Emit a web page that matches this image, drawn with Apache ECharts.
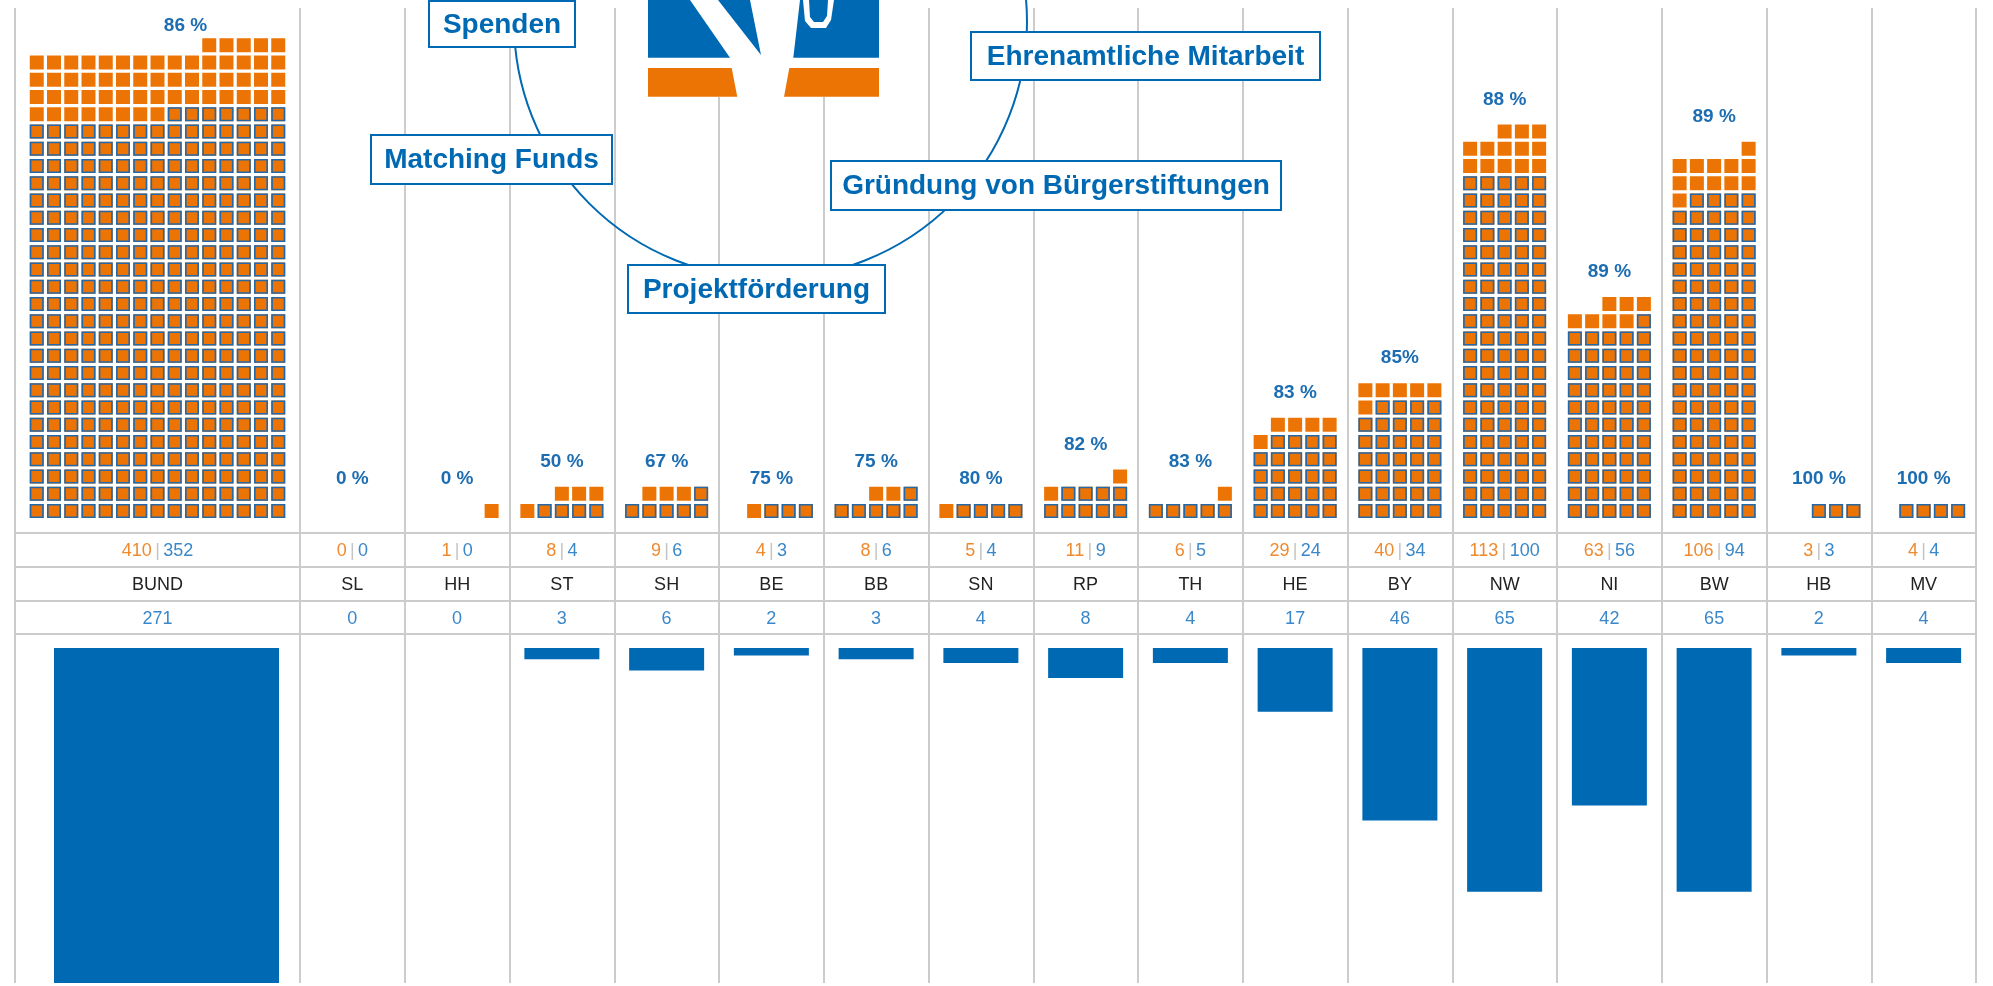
<!DOCTYPE html>
<html lang="de">
<head>
<meta charset="utf-8">
<script src="https://cdn.jsdelivr.net/npm/echarts@6/dist/echarts.min.js"></script>
</head>
<body style="margin:0;background:#fff">
<div id="container" style="width:1993px;height:986px"></div>
<script>
// Daten: BUND separat, dann die Länder
var bundName = ['BUND'];
var bundOrange = [410];
var bundBlue = [352];
var bundBars = [271];
var bundPct = ['86 %'];

var laender = ['SL', 'HH', 'ST', 'SH', 'BE', 'BB', 'SN', 'RP', 'TH', 'HE', 'BY', 'NW', 'NI', 'BW', 'HB', 'MV'];
var orange = [0, 1, 8, 9, 4, 8, 5, 11, 6, 29, 40, 113, 63, 106, 3, 4];
var blue = [0, 0, 4, 6, 3, 6, 4, 9, 5, 24, 34, 100, 56, 94, 3, 4];
var bars = [0, 0, 3, 6, 2, 3, 4, 8, 4, 17, 46, 65, 42, 65, 2, 4];
var pct = ['0 %', '0 %', '50 %', '67 %', '75 %', '75 %', '80 %', '82 %', '83 %', '83 %', '85%', '88 %', '89 %', '89 %', '100 %', '100 %'];

var ORANGE = '#ec7404';
var VRBLUE = '#0069b3';
var BORDER = '#2468a8';
var GRID = '#cccccc';
var FONT = '"Liberation Sans", Arial, sans-serif';

var rowPx = 17.25;          // Raster der Kästchen
var SQ = 14 / 17.25;        // Kästchen relativ zum Raster
var waffleTop = 8, waffleBase = 518;
var barTop = 648, barH = 335, barPx = 3.75;

var myChart = echarts.init(document.getElementById('container'));

function waffle(ora, blu, perRow) {
    var out = [];
    ora.forEach(function (n, c) {
        for (var i = 0; i < n; i++) {
            out.push([c, perRow - 1 - (i % perRow), Math.floor(i / perRow), i < blu[c] ? 1 : 0, perRow]);
        }
    });
    return out;
}

function renderSquare(params, api) {
    var p = api.coord([api.value(0), api.value(2)]);
    var unit = api.size([0, 1])[1];
    var s = unit * SQ;
    var per = api.value(4);
    var x = p[0] + (api.value(1) - (per - 1) / 2) * unit - s / 2;
    var y = p[1] - s;
    if (api.value(3) === 1) {
        return {
            type: 'group', children: [
                {type: 'rect', shape: {x: x, y: y, width: s, height: s}, style: {fill: ORANGE}},
                {type: 'rect', shape: {x: x + 0.8, y: y + 0.8, width: s - 1.6, height: s - 1.6},
                    style: {fill: 'none', stroke: BORDER, lineWidth: 1.6}}
            ]
        };
    }
    return {type: 'rect', shape: {x: x, y: y, width: s, height: s}, style: {fill: ORANGE}};
}

function pctData(ora, perRow) {
    return ora.map(function (n, c) {
        return [c, Math.max(1, Math.ceil(n / perRow))];
    });
}

function makePct(labels, dx, minY) {
    return function (params, api) {
        var p = api.coord([api.value(0), api.value(1) - 1]);
        var unit = api.size([0, 1])[1];
        var y = Math.max(p[1] - unit * SQ - 25, minY);
        return {
            type: 'text',
            style: {
                text: labels[params.dataIndex], x: p[0] + dx, y: y,
                fill: '#1c6db2', fontSize: 19, fontWeight: 'bold', fontFamily: FONT,
                align: 'center', verticalAlign: 'middle'
            }
        };
    };
}

function rowAxes(grid, names, ora, blu, nums) {
    var common = {
        type: 'category', gridIndex: grid, data: names, position: 'bottom',
        axisTick: {show: false},
        axisLine: {show: true, onZero: false, lineStyle: {color: GRID, width: 2}},
        splitLine: {show: false}
    };
    return [
        Object.assign({}, common, {
            offset: 15,
            axisLabel: {
                interval: 0, margin: 18, verticalAlign: 'middle',
                formatter: function (v, i) {
                    return '{o|' + ora[i] + '} {s||} {b|' + blu[i] + '}';
                },
                rich: {
                    o: {color: '#ef8a2e', fontSize: 18, fontFamily: FONT},
                    s: {color: '#c4c4c4', fontSize: 18, fontFamily: FONT},
                    b: {color: '#3a88c9', fontSize: 18, fontFamily: FONT}
                }
            }
        }),
        Object.assign({}, common, {
            offset: 49,
            axisLabel: {interval: 0, margin: 18, verticalAlign: 'middle', color: '#222', fontSize: 18, fontFamily: FONT}
        }),
        Object.assign({}, common, {
            offset: 83,
            axisLabel: {
                interval: 0, margin: 18, verticalAlign: 'middle', color: '#3a88c9', fontSize: 18, fontFamily: FONT,
                formatter: function (v, i) { return String(nums[i]); }
            }
        }),
        Object.assign({}, common, {offset: 116, axisLabel: {show: false}})
    ];
}

var hidden = {axisLine: {show: false}, axisTick: {show: false}, axisLabel: {show: false}, splitLine: {show: false}};

var xAxes = [].concat(
    rowAxes(0, bundName, bundOrange, bundBlue, bundBars),   // 0-3
    rowAxes(1, laender, orange, blue, bars),                // 4-7
    [
        Object.assign({type: 'category', gridIndex: 2, data: bundName}, hidden),   // 8
        Object.assign({type: 'category', gridIndex: 3, data: laender}, hidden),    // 9
        Object.assign({type: 'category', gridIndex: 4, data: bundName}, hidden,
            {splitLine: {show: true, interval: 0, showMinLine: true, showMaxLine: true, lineStyle: {color: GRID, width: 2}}}),
        Object.assign({type: 'category', gridIndex: 5, data: laender}, hidden,
            {splitLine: {show: true, interval: 0, showMinLine: true, showMaxLine: true, lineStyle: {color: GRID, width: 2}}})
    ]
);

var waffleMax = (waffleBase - waffleTop) / rowPx;
var barMax = barH / barPx;

var yAxes = [
    Object.assign({type: 'value', gridIndex: 0, min: 0, max: waffleMax}, hidden),
    Object.assign({type: 'value', gridIndex: 1, min: 0, max: waffleMax}, hidden),
    Object.assign({type: 'value', gridIndex: 2, min: 0, max: barMax, inverse: true}, hidden),
    Object.assign({type: 'value', gridIndex: 3, min: 0, max: barMax, inverse: true}, hidden),
    Object.assign({type: 'value', gridIndex: 4, min: 0, max: 1}, hidden),
    Object.assign({type: 'value', gridIndex: 5, min: 0, max: 1}, hidden)
];

// Logo und Kreisdiagramm oben
var boxes = [
    {text: 'Spenden', x: 429, y: 1, w: 146, h: 46},
    {text: 'Matching Funds', x: 371, y: 135, w: 241, h: 49},
    {text: 'Projektförderung', x: 628, y: 265, w: 257, h: 48},
    {text: 'Gründung von Bürgerstiftungen', x: 831, y: 161, w: 450, h: 49},
    {text: 'Ehrenamtliche Mitarbeit', x: 971, y: 32, w: 349, h: 48}
];

var graphics = [
    {type: 'circle', z: 50, shape: {cx: 770.5, cy: 22, r: 256.5}, style: {fill: 'none', stroke: VRBLUE, lineWidth: 2}},
    {type: 'rect', z: 50, shape: {x: 648, y: 0, width: 231, height: 97}, style: {fill: '#fff'}},
    {type: 'rect', z: 51, shape: {x: 648, y: 0, width: 231, height: 57.7}, style: {fill: VRBLUE}},
    {type: 'rect', z: 51, shape: {x: 648, y: 68, width: 231, height: 28.7}, style: {fill: ORANGE}},
    {type: 'polygon', z: 52, shape: {points: [[690, 0], [730, 57.7], [731.7, 68], [737.3, 97], [784, 97],
        [789.3, 68], [793.3, 57.7], [800, 0]]}, style: {fill: '#fff'}},
    {type: 'polygon', z: 53, shape: {points: [[718, 0], [761, 55], [750, 0]]}, style: {fill: VRBLUE}},
    {type: 'polygon', z: 52, shape: {points: [[803, 0], [805, 21], [811, 28], [826, 28], [831, 20], [834, 0]]}, style: {fill: '#fff'}},
    {type: 'polygon', z: 53, shape: {points: [[809, 0], [810, 17], [814, 22], [823, 22], [827, 16], [828, 0]]}, style: {fill: VRBLUE}}
];
boxes.forEach(function (b) {
    graphics.push({type: 'rect', z: 60, shape: {x: b.x, y: b.y, width: b.w, height: b.h},
        style: {fill: '#fff', stroke: VRBLUE, lineWidth: 2}});
    graphics.push({type: 'text', z: 61, style: {
        text: b.text, x: b.x + b.w / 2, y: b.y + b.h / 2 + 1,
        fill: VRBLUE, fontSize: 28, fontWeight: 'bold', fontFamily: FONT,
        align: 'center', verticalAlign: 'middle', textAlign: 'center', textVerticalAlign: 'middle'
    }});
});

option = {
    animation: false,
    backgroundColor: '#fff',
    grid: [
        {left: 15, width: 285, top: waffleTop, height: waffleBase - waffleTop},
        {left: 300, width: 1676, top: waffleTop, height: waffleBase - waffleTop},
        {left: 24, width: 285, top: barTop, height: barH},
        {left: 300, width: 1676, top: barTop, height: barH},
        {left: 15, width: 285, top: 8, height: 975},
        {left: 300, width: 1676, top: 8, height: 975}
    ],
    xAxis: xAxes,
    yAxis: yAxes,
    graphic: {elements: graphics},
    series: [
        {type: 'custom', xAxisIndex: 0, yAxisIndex: 0, renderItem: renderSquare, data: waffle(bundOrange, bundBlue, 15)},
        {type: 'custom', xAxisIndex: 4, yAxisIndex: 1, renderItem: renderSquare, data: waffle(orange, blue, 5)},
        {type: 'custom', xAxisIndex: 0, yAxisIndex: 0, renderItem: makePct(bundPct, 28, 26), data: pctData(bundOrange, 15)},
        {type: 'custom', xAxisIndex: 4, yAxisIndex: 1, renderItem: makePct(pct, 0, 0), data: pctData(orange, 5)},
        {type: 'bar', xAxisIndex: 8, yAxisIndex: 2, data: bundBars, barWidth: 225, itemStyle: {color: VRBLUE}},
        {type: 'bar', xAxisIndex: 9, yAxisIndex: 3, data: bars, barWidth: 75, itemStyle: {color: VRBLUE}}
    ]
};

myChart.setOption(option);
</script>
</body>
</html>
